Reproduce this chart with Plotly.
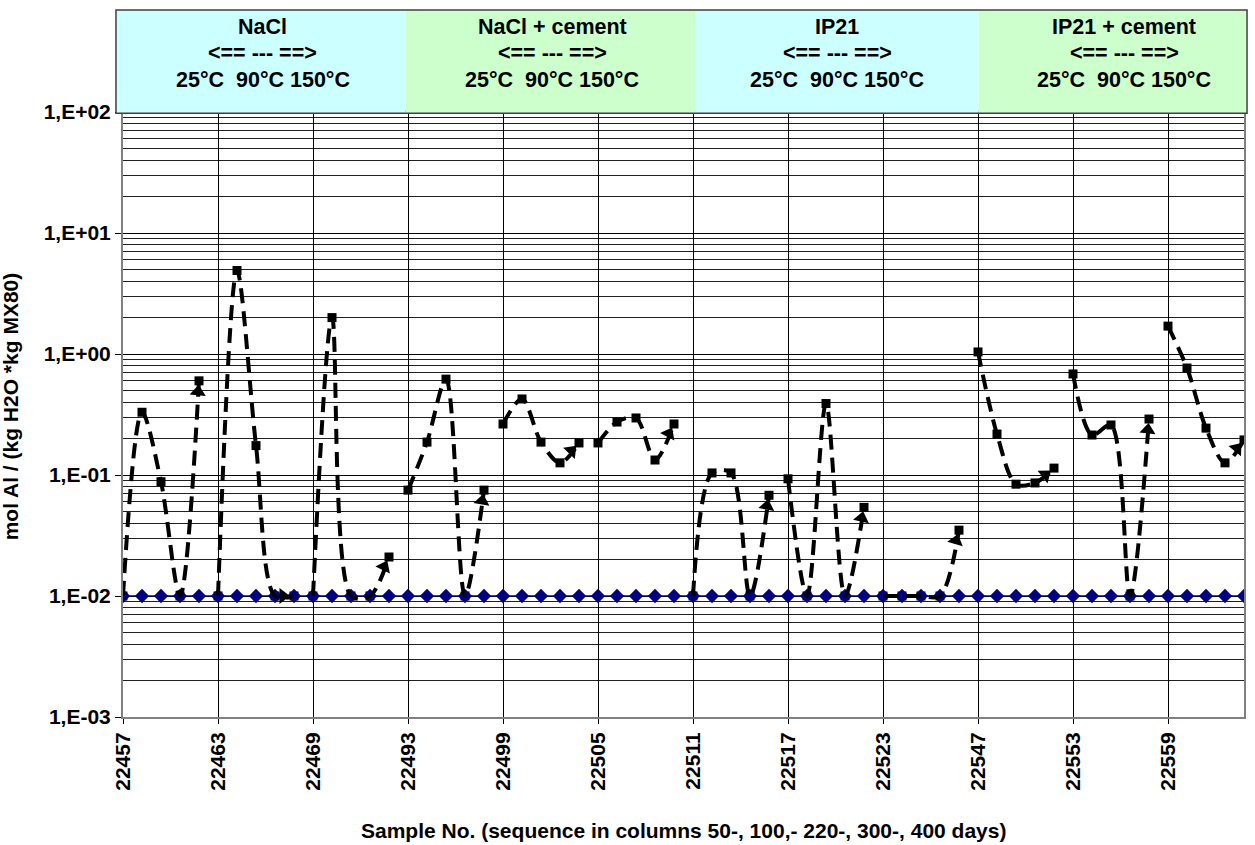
import plotly.graph_objects as go

# Sample numbers along the category axis (15 per solution block: 3 temperatures x 5 sampling times)
samples = [
    22457, 22458, 22459, 22460, 22461, 22463, 22464, 22465, 22466, 22467, 22469, 22470, 22471, 22472, 22473,
    22493, 22494, 22495, 22496, 22497, 22499, 22500, 22501, 22502, 22503, 22505, 22506, 22507, 22508, 22509,
    22511, 22512, 22513, 22514, 22515, 22517, 22518, 22519, 22520, 22521, 22523, 22524, 22525, 22526, 22527,
    22547, 22548, 22549, 22550, 22551, 22553, 22554, 22555, 22556, 22557, 22559, 22560, 22561, 22562, 22563,
]

# mol Al / (kg H2O * kg MX80)
al_mol = [
    0.010, 0.33, 0.088, 0.010, 0.60,
    0.010, 4.9, 0.175, 0.010, 0.010,
    0.010, 2.0, 0.010, 0.010, 0.021,
    0.075, 0.187, 0.62, 0.010, 0.075,
    0.264, 0.425, 0.187, 0.126, 0.184,
    0.184, 0.274, 0.296, 0.133, 0.264,
    0.010, 0.104, 0.104, 0.010, 0.068,
    0.093, 0.010, 0.39, 0.010, 0.054,
    0.010, 0.010, 0.010, 0.010, 0.035,
    1.04, 0.218, 0.084, 0.086, 0.114,
    0.684, 0.214, 0.259, 0.010, 0.29,
    1.70, 0.766, 0.244, 0.126, 0.195,
]

# detection limit
detection_limit = [
    0.01, 0.01, 0.01, 0.01, 0.01, 0.01, 0.01, 0.01, 0.01, 0.01, 0.01, 0.01, 0.01, 0.01, 0.01,
    0.01, 0.01, 0.01, 0.01, 0.01, 0.01, 0.01, 0.01, 0.01, 0.01, 0.01, 0.01, 0.01, 0.01, 0.01,
    0.01, 0.01, 0.01, 0.01, 0.01, 0.01, 0.01, 0.01, 0.01, 0.01, 0.01, 0.01, 0.01, 0.01, 0.01,
    0.01, 0.01, 0.01, 0.01, 0.01, 0.01, 0.01, 0.01, 0.01, 0.01, 0.01, 0.01, 0.01, 0.01, 0.01,
]

group_names = ["NaCl", "NaCl + cement", "IP21", "IP21 + cement"]
group_fill = ["#CCFFFF", "#CCFFCC", "#CCFFFF", "#CCFFCC"]
header_lines = ["&lt;== --- ==&gt;", "25°C&nbsp; 90°C 150°C"]

y_tick_vals = [1e-3, 1e-2, 1e-1, 1e0, 1e1, 1e2]
y_tick_text = ["1,E-03", "1,E-02", "1,E-01", "1,E+00", "1,E+01", "1,E+02"]

BLOCK = 5          # sampling times per temperature
TICK_STEP = 5      # label every 5th sample
FONT = "Liberation Sans, Arial, sans-serif"

x = list(range(len(samples)))
x_max = len(samples) - 1
tick_pos = x[::TICK_STEP]
tick_lbl = [str(samples[i]) for i in tick_pos]

fig = go.Figure()

# measured values (squares)
fig.add_trace(go.Scatter(
    x=x, y=al_mol, mode="markers",
    marker=dict(symbol="square", size=9, color="black", line=dict(width=0)),
    hoverinfo="x+y", showlegend=False,
))

# detection limit line
fig.add_trace(go.Scatter(
    x=x, y=detection_limit, mode="lines+markers",
    line=dict(color="#000080", width=1.5),
    marker=dict(symbol="diamond", size=11, color="#000080", line=dict(width=0)),
    showlegend=False,
))

# dashed trend curves with arrow heads, one per temperature block
for b in range(0, len(samples), BLOCK):
    xs = x[b:b + BLOCK]
    ys = al_mol[b:b + BLOCK]
    fig.add_trace(go.Scatter(
        x=xs, y=ys, mode="lines",
        line=dict(color="black", width=4, dash="15px,8px", shape="spline", smoothing=0.9),
        hoverinfo="skip", showlegend=False,
    ))
    fig.add_trace(go.Scatter(
        x=xs, y=ys, mode="markers",
        marker=dict(symbol="triangle-up", size=[0] * (len(xs) - 1) + [14], angleref="previous",
                    standoff=11, color="black", opacity=1, line=dict(width=0)),
        hoverinfo="skip", showlegend=False,
    ))

# header boxes above the plot (category positions converted to paper fractions)
edges = [-0.37, 14.87, 30.11, 45.03, 59.16]
text_x = [7.35, 22.6, 37.6, 52.7]
line_y = [1.1405, 1.0975, 1.0529]
box_y0, box_y1 = 0.998, 1.1686
shapes = []
annotations = []
for i, name in enumerate(group_names):
    shapes.append(dict(type="rect", xref="paper", yref="paper",
                       x0=edges[i] / x_max, x1=edges[i + 1] / x_max, y0=box_y0, y1=box_y1,
                       fillcolor=group_fill[i], line=dict(width=0), layer="above"))
    for txt, yy in zip([name] + header_lines, line_y):
        annotations.append(dict(xref="paper", yref="paper", x=text_x[i] / x_max, y=yy,
                                text=txt, showarrow=False, xanchor="center", yanchor="middle",
                                font=dict(family=FONT, size=21.5, color="black", weight="bold")))
shapes.append(dict(type="rect", xref="paper", yref="paper",
                   x0=edges[0] / x_max, x1=edges[-1] / x_max, y0=box_y0, y1=box_y1,
                   fillcolor="rgba(0,0,0,0)", line=dict(color="#404040", width=1.5), layer="above"))

# axis titles
annotations.append(dict(xref="paper", yref="paper", x=0.5, y=-0.188,
                        text="Sample No. (sequence in columns 50-, 100,- 220-, 300-, 400 days)",
                        showarrow=False, xanchor="center", yanchor="middle",
                        font=dict(family=FONT, size=21, color="black", weight="bold")))
annotations.append(dict(xref="paper", yref="paper", x=-0.1005, y=0.514,
                        text="mol Al / (kg H2O *kg MX80)", textangle=-90,
                        showarrow=False, xanchor="center", yanchor="middle",
                        font=dict(family=FONT, size=21, color="black", weight="bold")))

minor_vals = [m * 10.0 ** e for e in range(-3, 2) for m in range(2, 10)]

fig.update_layout(
    width=1255, height=845,
    margin=dict(l=123, r=9, t=112, b=128),
    paper_bgcolor="white", plot_bgcolor="white",
    showlegend=False,
    shapes=shapes, annotations=annotations,
    xaxis=dict(
        range=[0, x_max],
        tickmode="array", tickvals=tick_pos, ticktext=tick_lbl, tickangle=-90,
        tickfont=dict(family=FONT, size=21, color="black", weight="bold"),
        ticks="outside", ticklen=5, tickcolor="black",
        showgrid=True, gridcolor="black", gridwidth=1,
        showline=True, linecolor="#808080", linewidth=2, mirror=True,
        zeroline=False,
    ),
    yaxis=dict(
        type="log", range=[-3, 2],
        tickmode="array", tickvals=y_tick_vals, ticktext=y_tick_text,
        tickfont=dict(family=FONT, size=21, color="black", weight="bold"),
        ticks="outside", ticklen=6, tickcolor="black",
        showgrid=True, gridcolor="black", gridwidth=1,
        minor=dict(tickmode="array", tickvals=minor_vals, showgrid=True,
                   gridcolor="#202020", gridwidth=1, ticks=""),
        showline=True, linecolor="#808080", linewidth=2, mirror=True,
        zeroline=False,
    ),
)

fig.write_html("out.html")
